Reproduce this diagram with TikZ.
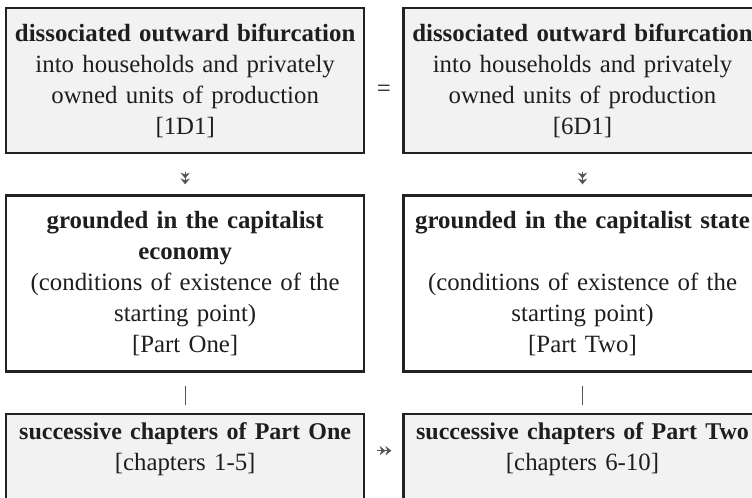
\documentclass[tikz,border=0pt]{standalone}
\usepackage{fontspec}
\setmainfont{Liberation Serif}
\usetikzlibrary{positioning, arrows.meta}
\definecolor{clrpanel}{HTML}{F2F2F2}
\definecolor{clrplain}{HTML}{FFFFFF}
\definecolor{clrborder}{HTML}{222222}
\definecolor{clrtext}{HTML}{1E1E1E}
\definecolor{clrlink}{HTML}{555555}

\begin{document}
\begin{tikzpicture}[
    >=Stealth,
    every node/.style={font=\fontsize{21.2pt}{26.4pt}\selectfont, text=clrtext},
    block/.style={draw=clrborder, line width=2pt, minimum width=10.74cm,
                  text width=10.5cm, align=center, inner xsep=0.1cm, inner ysep=0.15cm},
    arrow/.style={-{Stealth[length=5pt,width=8pt]Stealth[length=5pt,width=8pt]},
                  color=clrlink, line width=1pt},
    bar/.style={color=clrlink, line width=0.8pt},
]
\useasboundingbox (0,0) rectangle (22.56,-14.91);
\node[block, fill=clrpanel, minimum height=4.35cm, anchor=north west] (n_1) at (0.15,-0.21) {\textbf{dissociated outward bifurcation}\\ into households and privately\\ owned units of production\\ {[1D1]}};
\node[block, fill=clrpanel, minimum height=4.35cm, right=1.11cm of n_1] (n_2) {\textbf{dissociated outward bifurcation}\\ into households and privately\\ owned units of production\\ {[6D1]}};
\node[block, fill=clrplain, minimum height=5.28cm, below=1.2cm of n_1] (n_3) {\textbf{grounded in the capitalist}\\ \textbf{economy}\\ (conditions of existence of the\\ starting point)\\ {[Part One]}};
\node[block, fill=clrplain, minimum height=5.28cm, below=1.2cm of n_2] (n_4) {\textbf{grounded in the capitalist state}\\ ~\\ (conditions of existence of the\\ starting point)\\ {[Part Two]}};
\node[block, fill=clrpanel, inner ysep=0.25cm, below=1.2cm of n_3] (n_5) {{\fontsize{20.5pt}{26.4pt}\selectfont\textbf{successive chapters of Part One}}\\ {[chapters 1-5]}\\ \rule{0pt}{2cm}};
\node[block, fill=clrpanel, inner ysep=0.25cm, below=1.2cm of n_4] (n_6) {{\fontsize{20.5pt}{26.4pt}\selectfont\textbf{successive chapters of Part Two}}\\ {[chapters 6-10]}\\ \rule{0pt}{2cm}};
\path (n_1) -- node[yshift=-0.3cm] (n_eq) {=} (n_2);
\draw[arrow, shorten <=0.52cm, shorten >=0.3cm] (n_1) -- (n_3);
\draw[arrow, shorten <=0.52cm, shorten >=0.3cm] (n_2) -- (n_4);
\draw[bar, shorten <=0.39cm, shorten >=0.24cm] (n_3) -- (n_5);
\draw[bar, shorten <=0.39cm, shorten >=0.24cm] (n_4) -- (n_6);
\draw[arrow, shorten <=0.34cm, shorten >=0.33cm] ([yshift=-1.14cm]n_5.north east) -- ([yshift=-1.14cm]n_6.north west);
\end{tikzpicture}
\end{document}
